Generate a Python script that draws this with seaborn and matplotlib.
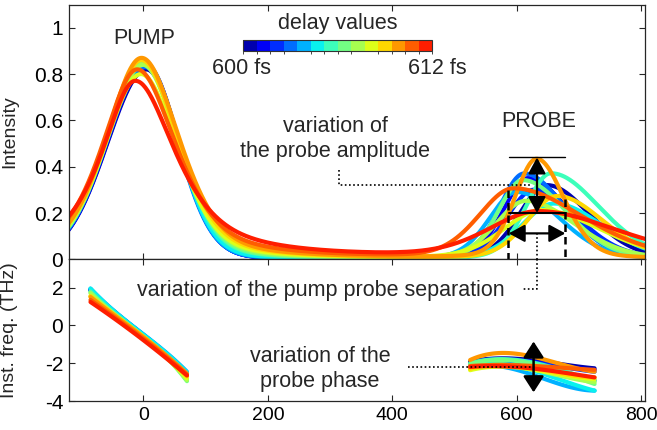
import numpy as np
import pandas as pd
import matplotlib
matplotlib.use("Agg")
import matplotlib.pyplot as plt
import seaborn as sns
from matplotlib.colors import ListedColormap, BoundaryNorm
from matplotlib.cm import ScalarMappable
from matplotlib.patches import ArrowStyle

# ---------------- data ----------------
delays_fs = [600.0, 600.9, 601.8, 602.8, 603.7, 604.6, 605.5,
             606.5, 607.4, 608.3, 609.2, 610.2, 611.1, 612.0]

# pump pulse (intensity panel): amplitude, centre (fs), left/right half widths, lorentz fraction
pump_amp = [0.82, 0.83, 0.84, 0.83, 0.84, 0.85, 0.85, 0.85, 0.84, 0.80, 0.86, 0.87, 0.82, 0.77]
pump_center = [5, 5, 4, 3, 2, 1, 0, 0, -1, -4, -3, -3, -10, -13]
pump_hl = [75, 75, 75, 74, 74, 73, 72, 71, 70, 70, 69, 68, 67, 65]
pump_hr = [62, 62, 62, 62, 63, 64, 66, 67, 68, 70, 70, 72, 75, 78]
pump_eta = [0.08, 0.08, 0.08, 0.1, 0.1, 0.12, 0.2, 0.22, 0.28, 0.33, 0.38, 0.4, 0.55, 0.75]

# probe pulse
probe_amp = [0.32, 0.35, 0.30, 0.37, 0.29, 0.24, 0.37, 0.34, 0.25, 0.21, 0.27, 0.43, 0.30, 0.20]
probe_center = [648, 618, 628, 612, 600, 660, 655, 610, 615, 640, 665, 632, 595, 635]
probe_hl = [52, 47, 52, 47, 52, 62, 48, 47, 57, 72, 57, 42, 66, 95]
probe_hr = [82, 77, 82, 77, 82, 92, 92, 82, 92, 112, 87, 52, 130, 150]
probe_eta = [0.15, 0.15, 0.15, 0.15, 0.15, 0.15, 0.15, 0.15, 0.15, 0.2, 0.15, 0.2, 0.2, 0.3]

# instantaneous frequency readings (THz)
pump_freq_x = [-85, -50, 0, 70]
pump_freq = [
    [1.85, 0.80, -0.55, -2.60],
    [1.90, 0.82, -0.50, -2.55],
    [1.88, 0.80, -0.52, -2.62],
    [1.90, 0.82, -0.50, -2.50],
    [1.95, 0.85, -0.47, -2.45],
    [1.95, 0.83, -0.50, -2.50],
    [1.80, 0.72, -0.58, -2.90],
    [1.75, 0.70, -0.60, -2.95],
    [1.70, 0.68, -0.60, -2.90],
    [1.55, 0.62, -0.65, -2.80],
    [1.55, 0.64, -0.60, -2.70],
    [1.50, 0.62, -0.62, -2.55],
    [1.35, 0.52, -0.70, -2.60],
    [1.24, 0.44, -0.78, -2.65],
]
probe_freq_x = [525, 590, 655, 725]
probe_freq = [
    [-1.92, -1.75, -1.97, -2.27],
    [-1.95, -1.80, -2.05, -2.35],
    [-2.00, -1.85, -2.10, -2.45],
    [-2.05, -1.95, -2.30, -2.90],
    [-2.27, -2.27, -2.95, -3.45],
    [-2.15, -2.10, -2.70, -3.45],
    [-2.00, -1.80, -2.20, -2.95],
    [-2.05, -1.85, -2.30, -3.10],
    [-2.30, -2.15, -2.55, -3.00],
    [-2.37, -2.20, -2.50, -2.85],
    [-2.30, -2.10, -2.45, -2.75],
    [-1.83, -1.47, -1.90, -2.45],
    [-2.15, -2.10, -2.20, -2.35],
    [-2.20, -2.18, -2.40, -2.75],
]

x_ticks = [0, 200, 400, 600, 800]
y1_ticks = [0, 0.2, 0.4, 0.6, 0.8, 1]
y1_ticklabels = ["0", "0.2", "0.4", "0.6", "0.8", "1"]
y2_ticks = [-4, -2, 0, 2]
y2_ticklabels = ["-4", "-2", "0", "2"]

# ---------------- build tables ----------------
def pulse(x, amp, c, hl, hr, eta):
    h = np.where(x < c, hl, hr)
    u = ((x - c) / h) ** 2
    return amp * ((1 - eta) * np.exp(-np.log(2) * u) + eta / (1 + u))

labels = [f"{d:.1f} fs" for d in delays_fs]
t = np.linspace(-125, 812, 900)
rows = []
for i, lab in enumerate(labels):
    inten = pulse(t, pump_amp[i], pump_center[i], pump_hl[i], pump_hr[i], pump_eta[i]) + \
        pulse(t, probe_amp[i], probe_center[i], probe_hl[i], probe_hr[i], probe_eta[i])
    rows.append(pd.DataFrame({"time": t, "intensity": inten, "delay": lab}))
df_int = pd.concat(rows, ignore_index=True)

frows = []
tp = np.linspace(pump_freq_x[0], pump_freq_x[-1], 120)
tq = np.linspace(probe_freq_x[0], probe_freq_x[-1], 120)
for i, lab in enumerate(labels):
    cp = np.polyfit(pump_freq_x, pump_freq[i], 3)
    cq = np.polyfit(probe_freq_x, probe_freq[i], 3)
    frows.append(pd.DataFrame({"time": tp, "freq": np.polyval(cp, tp), "delay": lab, "seg": f"{i}a"}))
    frows.append(pd.DataFrame({"time": tq, "freq": np.polyval(cq, tq), "delay": lab, "seg": f"{i}b"}))
df_freq = pd.concat(frows, ignore_index=True)

# ---------------- style ----------------
sns.set_style("ticks")
plt.rcParams["font.family"] = ["Liberation Sans", "DejaVu Sans"]
plt.rcParams["axes.unicode_minus"] = False
edge = "#262626"
fs = 15.5     # annotation text
lfs = 14      # axis labels
tfs = 15      # y tick labels
xtfs = 14     # x tick labels

jet = plt.get_cmap("jet")
colors = [jet(v) for v in np.linspace(0.04, 0.875, len(delays_fs))]

fig = plt.figure(figsize=(6.57, 4.30), dpi=100)
ax1 = fig.add_axes([0.1046, 0.397, 0.8771, 0.592])
ax2 = fig.add_axes([0.1046, 0.0674, 0.8771, 0.3296])

sns.lineplot(data=df_int, x="time", y="intensity", hue="delay", hue_order=labels,
             palette=colors, legend=False, linewidth=3, estimator=None, sort=False, ax=ax1)
sns.lineplot(data=df_freq, x="time", y="freq", hue="delay", hue_order=labels, units="seg",
             palette=colors, legend=False, linewidth=3, estimator=None, sort=False, ax=ax2)

for ax in (ax1, ax2):
    ax.set_xlim(-120, 806)
    ax.set_xticks(x_ticks)
    ax.tick_params(direction="in", top=True, right=True, length=4.5, width=0.8,
                   color=edge, labelcolor="black", pad=4)
    ax.tick_params(axis="y", labelsize=tfs)
    ax.tick_params(axis="x", labelsize=xtfs)
    for s in ax.spines.values():
        s.set_color(edge)
        s.set_linewidth(0.9)
    ax.set_xlabel("")

ax1.set_ylim(0, 1.1)
ax1.set_yticks(y1_ticks)
ax1.set_yticklabels(y1_ticklabels)
ax1.tick_params(labelbottom=False)
ax1.set_ylabel("Intensity", fontsize=lfs)
ax1.yaxis.set_label_coords(-0.088, 0.5)

ax2.set_ylim(-4, 3.5)
ax2.set_yticks(y2_ticks)
ax2.set_yticklabels(y2_ticklabels)
ax2.set_xticklabels([str(v) for v in x_ticks])
ax2.set_ylabel("Inst. freq. (THz)", fontsize=lfs)
ax2.yaxis.set_label_coords(-0.088, 0.5)

# ---------------- annotations ----------------
ax1.text(2, 0.955, "PUMP", ha="center", va="center", fontsize=fs)
ax1.text(635, 0.594, "PROBE", ha="center", va="center", fontsize=fs)
ax1.text(308, 0.519, "variation of\nthe probe amplitude", ha="center", va="center",
         fontsize=fs, linespacing=1.25)

dot = dict(color="black", lw=1.2, ls=(0, (1, 1.5)), zorder=5)
ax1.plot([315, 315, 625], [0.386, 0.321, 0.321], **dot)

head = ArrowStyle("<|-|>", head_length=0.7, head_width=0.38)
# amplitude arrow
ax1.plot([587, 677], [0.44, 0.44], color="black", lw=1.0, zorder=6)
ax1.plot([587, 677], [0.2, 0.2], color="black", lw=1.5, zorder=6)
ax1.annotate("", xy=(632.5, 0.44), xytext=(632.5, 0.2),
             arrowprops=dict(arrowstyle=head, mutation_scale=14, lw=1.6, color="black",
                             shrinkA=0, shrinkB=0), zorder=7)
# separation
dash = dict(color="black", lw=1.8, ls=(0, (3, 2)), zorder=6)
ax1.plot([586, 586], [0.30, 0.0], **dash)
ax1.plot([677, 677], [0.26, 0.0], **dash)
ax1.annotate("", xy=(587, 0.112), xytext=(678, 0.112),
             arrowprops=dict(arrowstyle=head, mutation_scale=14, lw=1.6, color="black",
                             shrinkA=0, shrinkB=0), zorder=7)
ax1.plot([632.5, 632.5], [0.112, 0.0], **dot)
ax2.plot([632.5, 632.5, 610], [3.5, 1.92, 1.92], **dot)
ax2.text(580, 1.85, "variation of the pump probe separation", ha="right", va="center",
         fontsize=fs)

# phase
ax2.text(284, -2.28, "variation of the\nprobe phase", ha="center", va="center",
         fontsize=fs, linespacing=1.25)
ax2.plot([425, 627], [-2.22, -2.22], **dot)
head2 = ArrowStyle("<|-|>", head_length=0.7, head_width=0.45)
ax2.annotate("", xy=(627, -0.85), xytext=(627, -3.54),
             arrowprops=dict(arrowstyle=head2, mutation_scale=14, lw=1.8, color="black",
                             shrinkA=0, shrinkB=0), zorder=7)

# colour bar
cax = fig.add_axes([243 / 657, 1 - 51 / 430, (432 - 243) / 657, 11 / 430])
norm = BoundaryNorm(np.arange(len(delays_fs) + 1), len(delays_fs))
sm = ScalarMappable(norm=norm, cmap=ListedColormap(colors))
cb = fig.colorbar(sm, cax=cax, orientation="horizontal")
cb.set_ticks([4, 9])
cb.ax.tick_params(length=11 * 0.72, width=0.8, direction="in", labelbottom=False,
                  color="#333333")
cb.outline.set_linewidth(0.8)
cb.outline.set_edgecolor("#333333")
fig.text(337.5 / 657, 1 - 23.3 / 430, "delay values", ha="center", va="center", fontsize=fs)
fig.text(242 / 657, 1 - 68.3 / 430, f"{delays_fs[0]:.0f} fs", ha="center", va="center", fontsize=fs)
fig.text(437.5 / 657, 1 - 68.3 / 430, f"{delays_fs[-1]:.0f} fs", ha="center", va="center", fontsize=fs)

fig.savefig("out.png", dpi=100)
